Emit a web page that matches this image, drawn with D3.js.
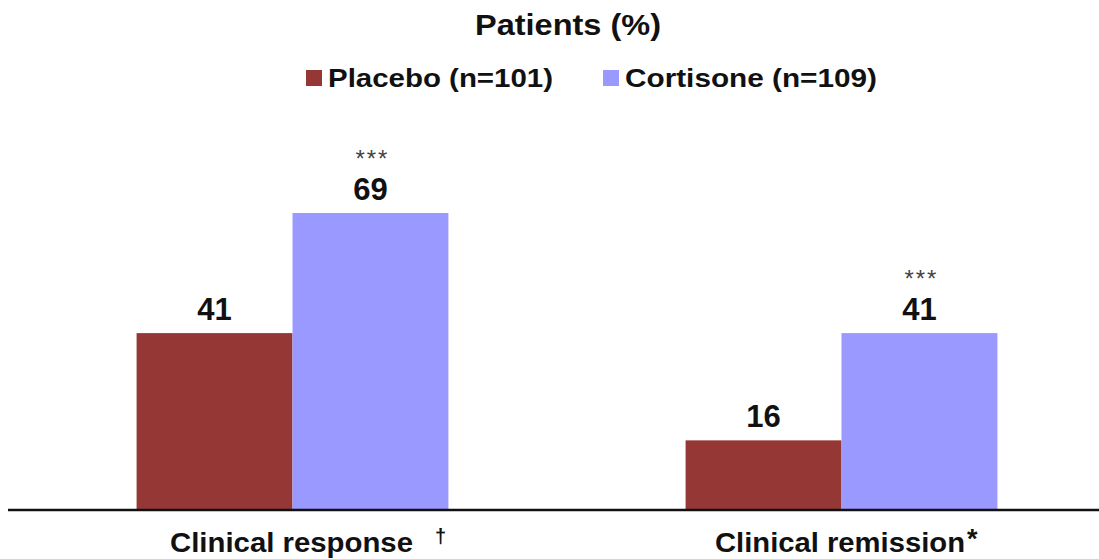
<!DOCTYPE html>
<html><head><meta charset="utf-8">
<script src="https://cdn.jsdelivr.net/npm/d3@7"></script>
<style>body{margin:0;background:#fff}svg{display:block}</style>
</head><body>
<svg id="c" width="1099" height="559"></svg>
<script>
const categories = ["Clinical response", "Clinical remission"];
const categoryMarks = ["†", "*"];
const series = ["Placebo (n=101)", "Cortisone (n=109)"];
const placebo = [41, 16];
const cortisone = [69, 41];
const significance = ["***", "***"];
const colors = ["#953735", "#9999ff"];
const title = "Patients (%)";

const svg = d3.select("#c");
const base = 509;
const x = d3.scaleBand().domain(categories).range([18, 1116]).paddingInner(0.432).paddingOuter(0.216);
const xi = d3.scaleBand().domain(series).range([0, x.bandwidth()]);
const y = d3.scaleLinear().domain([0, 100]).range([base, 80]);
const values = [placebo, cortisone];
const font = "'Liberation Sans', Arial, sans-serif";

svg.append("text").attr("x", 568).attr("y", 35).attr("text-anchor", "middle")
  .attr("font-family", font).attr("font-weight", "bold").attr("font-size", 30)
  .attr("textLength", 186).attr("lengthAdjust", "spacingAndGlyphs").attr("fill", "#111").text(title);

// legend
const legX = [306, 603];
const legW = [225, 252];
series.forEach((s, i) => {
  const g = svg.append("g").attr("transform", `translate(${legX[i]},70)`);
  g.append("rect").attr("width", 16).attr("height", 16).attr("fill", colors[i]);
  g.append("text").attr("x", 22).attr("y", 17).attr("font-family", font).attr("font-weight", "bold")
    .attr("font-size", 26).attr("textLength", legW[i]).attr("lengthAdjust", "spacingAndGlyphs").attr("fill", "#111").text(s);
});

categories.forEach((c, ci) => {
  const g = svg.append("g").attr("transform", `translate(${x(c)},0)`);
  series.forEach((s, si) => {
    const v = values[si][ci];
    g.append("rect").attr("x", xi(s)).attr("width", xi.bandwidth()).attr("y", y(v)).attr("height", base - y(v)).attr("fill", colors[si]);
    g.append("text").attr("x", xi(s) + xi.bandwidth() / 2).attr("y", y(v) - 13).attr("text-anchor", "middle")
      .attr("font-family", font).attr("font-weight", "bold").attr("font-size", 31).attr("fill", "#111").text(v);
    if (si === 1) {
      g.append("text").attr("x", xi(s) + xi.bandwidth() / 2 + 2).attr("y", y(v) - 46).attr("text-anchor", "middle")
        .attr("font-family", font).attr("font-size", 24).attr("letter-spacing", 2).attr("fill", "#444").text(significance[ci]);
    }
  });
});

svg.append("line").attr("x1", 8).attr("x2", 1099).attr("y1", base + 1).attr("y2", base + 1).attr("stroke", "#111").attr("stroke-width", 2.5);

const labX = [170, 715];
const labW = [243, 250];
categories.forEach((c, ci) => {
  svg.append("text").attr("x", labX[ci]).attr("y", 552)
    .attr("font-family", font).attr("font-weight", "bold").attr("font-size", 27)
    .attr("textLength", labW[ci]).attr("lengthAdjust", "spacingAndGlyphs").attr("fill", "#111").text(c);
  svg.append("text").attr("x", labX[ci] + labW[ci] + (ci === 0 ? 22 : 2)).attr("y", ci === 0 ? 543 : 548)
    .attr("font-family", font).attr("font-weight", "bold").attr("font-size", ci === 0 ? 20 : 27).attr("fill", "#111").text(categoryMarks[ci]);
});
</script>
</body></html>
